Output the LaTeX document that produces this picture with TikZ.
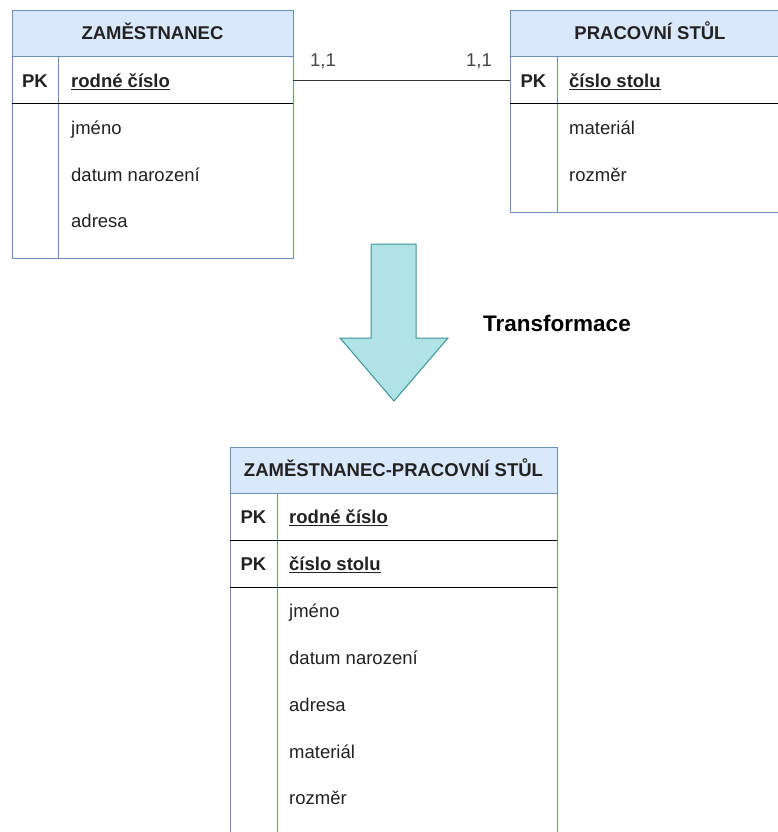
\documentclass[tikz,border=0pt]{standalone}
\usepackage{fontspec}
\setmainfont{Liberation Sans}
\begin{document}
\begin{tikzpicture}[x=1pt,y=-1pt,
  border/.style={draw=tblborder,line width=1pt},
  head/.style={border,fill=tblhead},
  keyline/.style={draw=black,line width=1pt},
  rowbox/.style={inner sep=0pt,outer sep=0pt,minimum height=47pt,anchor=north west},
  txt/.style={inner sep=0pt,anchor=base west,yshift=-6.6pt,text=txtcol,font=\fontsize{18.5}{22}\selectfont},
  pk/.style={inner sep=0pt,anchor=base,yshift=-6.6pt,text=txtcol,font=\fontsize{18.5}{22}\selectfont\bfseries},
  title/.style={inner sep=0pt,anchor=base,yshift=-6.6pt,text=txtcol,font=\fontsize{18.5}{22}\selectfont\bfseries},
  card/.style={inner sep=0pt,anchor=base,yshift=-6.6pt,text=cardcol,font=\fontsize{18.5}{22}\selectfont},
  conn/.style={draw=black!80,line width=1pt}]
\definecolor{tblborder}{HTML}{6C8EBF}
\definecolor{tblhead}{HTML}{DAE8FC}
\definecolor{txtcol}{HTML}{222222}
\definecolor{cardcol}{HTML}{444444}
\definecolor{arrfill}{HTML}{B0E3E6}
\definecolor{arrdraw}{HTML}{3A949A}
\newcommand{\keyname}[1]{\underline{#1}}

\clip (0,0) rectangle (778,832);
\fill[white] (0,0) rectangle (778,832);

% ---------- ZAMĚSTNANEC ----------
\path[head] (12,11) rectangle (293,57);
\path[border] (12,57) rectangle (293,258);
\path[border] (58,57) -- (58,258);
\path[keyline] (12,104) -- (293,104);
\node[title] (zt) at (152.5,33) {ZAMĚSTNANEC};
\node[rowbox,minimum width=281pt] (zpk) at (12,57) {};
\node[pk] (zpkl) at (35,81) {PK};
\node[txt] (zk) at (71,81) {\bfseries\keyname{rodné číslo}};
\node[txt] (za1) at (71,128) {jméno};
\node[txt] (za2) at (71,175) {datum narození};
\node[txt] (za3) at (71,221) {adresa};

% ---------- PRACOVNÍ STŮL ----------
\path[head] (510,11) rectangle (790,57);
\path[border] (510,57) rectangle (790,212);
\path[border] (557,57) -- (557,212);
\path[keyline] (510,104) -- (790,104);
\node[title] (st) at (650,33) {PRACOVNÍ STŮL};
\node[rowbox,minimum width=280pt] (spk) at (510,57) {};
\node[pk] (spkl) at (533.5,81) {PK};
\node[txt] (sk) at (569,81) {\bfseries\keyname{číslo stolu}};
\node[txt] (sa1) at (569,128) {materiál};
\node[txt] (sa2) at (569,175) {rozměr};

% relationship with cardinalities
\draw[conn] (zpk.east) -- (spk.west);
\node[card] (c1) at (323,60) {1,1};
\node[card] (c2) at (479,60) {1,1};

% ---------- transformation arrow ----------
\path[draw=arrdraw,fill=arrfill,line width=1pt,line join=miter]
  (371,244) -- (416,244) -- (416,338) -- (448,338) -- (394,401)
  -- (340,338) -- (371,338) -- cycle;
\node[inner sep=0pt,anchor=base west,yshift=-8pt,text=black,font=\fontsize{22.5}{26}\selectfont\bfseries]
  (tr) at (483,323) {Transformace};

% ---------- ZAMĚSTNANEC-PRACOVNÍ STŮL ----------
\path[head] (230,447) rectangle (557,493);
\path[border] (230,493) rectangle (557,860);
\path[border] (277,493) -- (277,860);
\path[keyline] (230,540) -- (557,540);
\path[keyline] (230,587) -- (557,587);
\node[title] (jt) at (393.5,470) {ZAMĚSTNANEC-PRACOVNÍ STŮL};
\node[pk] (jpk1) at (253.5,517) {PK};
\node[pk] (jpk2) at (253.5,564) {PK};
\node[txt] (jk1) at (289,517) {\bfseries\keyname{rodné číslo}};
\node[txt] (jk2) at (289,564) {\bfseries\keyname{číslo stolu}};
\node[txt] (ja1) at (289,611) {jméno};
\node[txt] (ja2) at (289,658) {datum narození};
\node[txt] (ja3) at (289,705) {adresa};
\node[txt] (ja4) at (289,752) {materiál};
\node[txt] (ja5) at (289,798) {rozměr};
\end{tikzpicture}
\end{document}
